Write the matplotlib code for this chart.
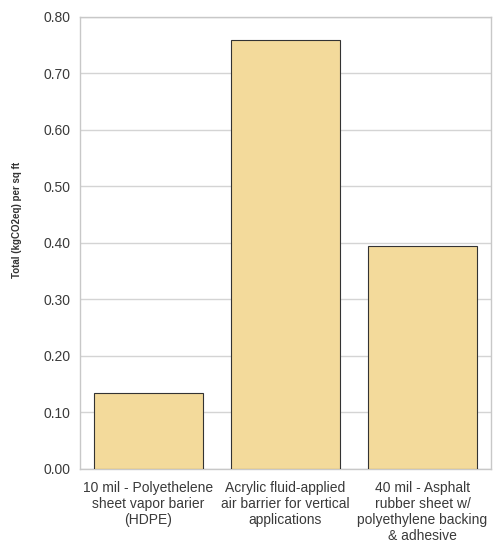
import matplotlib.pyplot as plt

plt.rcParams['font.family'] = ['Liberation Sans', 'DejaVu Sans']

products = ['10 mil - Polyethelene\nsheet vapor barier\n(HDPE)',
            'Acrylic fluid-applied\nair barrier for vertical\napplications',
            '40 mil - Asphalt\nrubber sheet w/\npolyethylene backing\n& adhesive']
totals = [0.134, 0.760, 0.394]

fig = plt.figure(figsize=(4.95, 5.47), dpi=100)
ax = fig.add_axes([0.1616, 0.1426, 0.8304, 0.8264])

ax.bar(range(len(products)), totals, width=0.8, color='#F3DA9B',
       edgecolor='#333333', linewidth=0.8, zorder=3)

ax.set_xlim(-0.5, 2.5)
ax.set_ylim(0, 0.8)
ax.set_yticks([i / 10 for i in range(9)])
ax.set_yticklabels(['%.2f' % (i / 10) for i in range(9)], fontsize=10, color='#3a3a3a')
ax.set_xticks(range(len(products)))
ax.set_xticklabels(products, fontsize=10, color='#3a3a3a', linespacing=1.17)
ax.tick_params(axis='y', length=0, pad=7)
ax.tick_params(axis='x', length=0, pad=9)
ax.grid(axis='y', color='#d4d4d4', linewidth=1, zorder=0)

for s in ax.spines.values():
    s.set_color('#c8c8c8')
    s.set_linewidth(1)

ax.set_ylabel('Total (kgCO2eq) per sq ft', fontsize=7, fontweight='bold',
              color='#333333')
ax.yaxis.set_label_coords(-0.142, 0.551)

fig.savefig('out.png', dpi=100)
